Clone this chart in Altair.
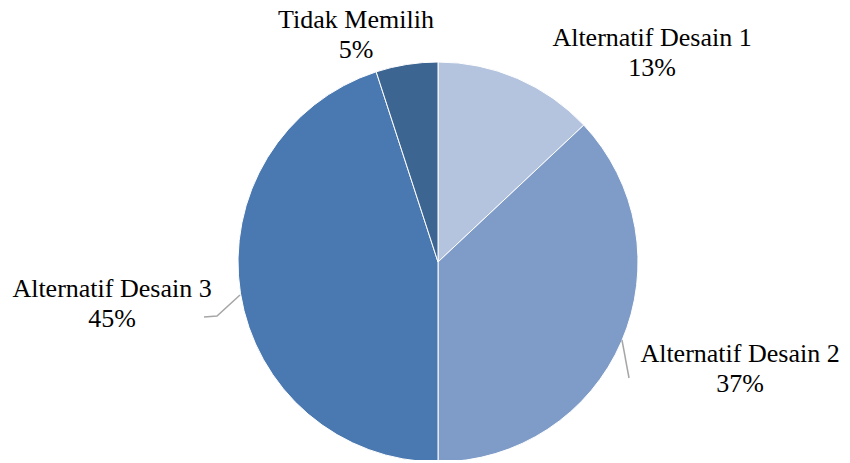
import altair as alt
import pandas as pd

# ---- data ----
categories = ["Alternatif Desain 1", "Alternatif Desain 2", "Alternatif Desain 3", "Tidak Memilih"]
values = [13, 37, 45, 5]
slice_order = [1, 2, 3, 4]

# ---- styling / layout (pixels, plot coordinates) ----
colors = ["#B4C3DE", "#7F9CC8", "#4A78B0", "#3D6592"]
CX, CY, R = 430, 254, 200
label_x = [644, 732, 104, 348]
label_y = [38, 354, 289, 20]

df = pd.DataFrame({
    "category": categories,
    "value": values,
    "order": slice_order,
    "label": [f"{c}\n{v}%" for c, v in zip(categories, values)],
    "lx": label_x,
    "ly": label_y,
})

leader = pd.DataFrame({
    "grp": ["d3", "d3", "d3", "d2", "d2"],
    "i": [0, 1, 2, 0, 1],
    "px": [232, 209, 196, 614, 621],
    "py": [287, 308, 309, 332, 370],
})

shadow = alt.Chart(df.head(1)).mark_circle(color="#000000", opacity=0.08).encode(
    x=alt.value(CX + 1), y=alt.value(CY + 1), size=alt.value(3.14159 * 203 * 203)
)

pie = alt.Chart(df).mark_arc(outerRadius=R, stroke="white", strokeWidth=1).encode(
    theta=alt.Theta("value:Q", stack=True),
    color=alt.Color("category:N", scale=alt.Scale(domain=categories, range=colors), legend=None),
    order=alt.Order("order:Q"),
    x=alt.value(CX),
    y=alt.value(CY),
)

labels = alt.Chart(df).mark_text(
    font="Liberation Serif", fontSize=26, color="#000000", align="center",
    baseline="alphabetic", lineBreak="\n", lineHeight=30
).encode(
    x=alt.X("lx:Q", scale=None, axis=None),
    y=alt.Y("ly:Q", scale=None, axis=None),
    text="label:N",
)

lines = alt.Chart(leader).mark_line(color="#A6A6A6", strokeWidth=1.5).encode(
    x=alt.X("px:Q", scale=None, axis=None),
    y=alt.Y("py:Q", scale=None, axis=None),
    detail="grp:N",
    order="i:Q",
)

chart = alt.layer(shadow, pie, lines, labels).properties(
    width=834, height=452, autosize="none", padding=0, background="white"
).configure_view(stroke=None)

chart.save("out.html", embed_options={"renderer": "svg", "actions": False})
